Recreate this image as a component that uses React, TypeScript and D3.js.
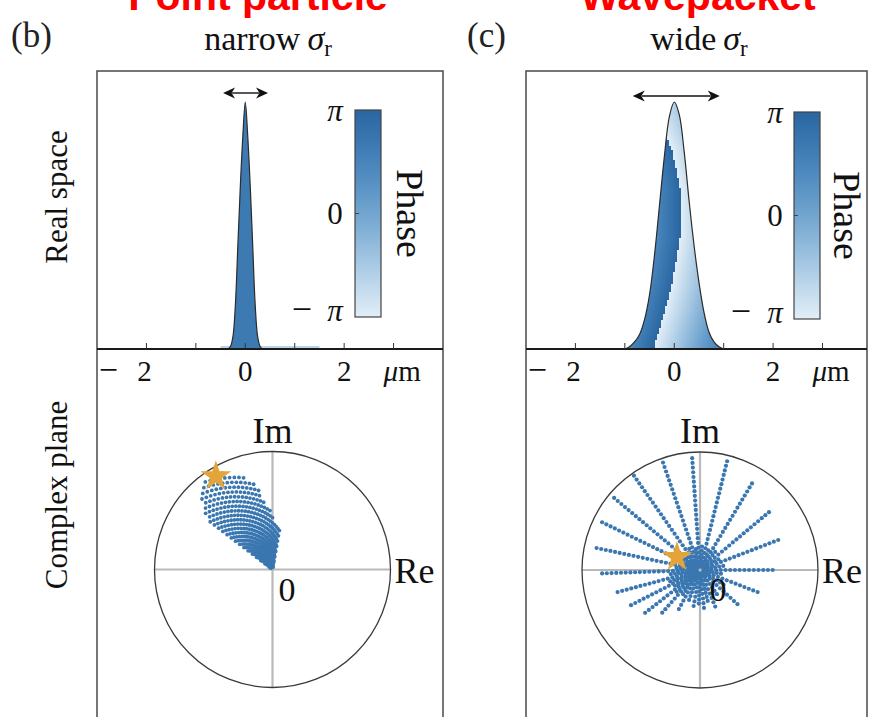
import React, { useMemo } from 'react';
import * as d3 from 'd3';

const W = 870;
const H = 717;

// ---------- data ----------
const xTicks = [-2, -1, 0, 1, 2, 3];
const xTickLabels = [
  { value: -2, text: '2', neg: true },
  { value: 0, text: '0', neg: false },
  { value: 2, text: '2', neg: false },
];

// narrow wavepacket |psi|^2 (normalised)
const narrowX = [-0.35, -0.3, -0.25, -0.2, -0.15, -0.1, -0.05, 0, 0.05, 0.1, 0.15, 0.2, 0.25, 0.3, 0.35];
const narrowY = [0, 0.01, 0.05, 0.18, 0.42, 0.66, 0.86, 1, 0.86, 0.66, 0.42, 0.18, 0.05, 0.01, 0];
const narrowTail = [-0.5, 1.5];
const narrowPhase = 2.1; // rad

// wide wavepacket |psi|^2 (normalised)
const wideX = [-1, -0.9, -0.8, -0.7, -0.6, -0.5, -0.4, -0.3, -0.2, -0.1, 0, 0.1, 0.2, 0.3, 0.4, 0.5, 0.6, 0.7, 0.8, 0.9, 1];
const wideY = [0, 0.01, 0.03, 0.06, 0.12, 0.22, 0.38, 0.58, 0.78, 0.94, 1, 0.95, 0.8, 0.6, 0.42, 0.27, 0.15, 0.07, 0.03, 0.01, 0];
// phase wrap line inside the wide packet (height fraction -> x in µm)
const wrapH = [0, 0.1, 0.25, 0.45, 0.65, 0.8, 0.88, 1];
const wrapX = [-0.42, -0.27, -0.06, 0.12, 0.12, -0.04, -0.2, -0.4];
const phaseSlope = 3.6; // rad per µm

const narrowArrow = [-0.45, 0.46];
const wideArrow = [-0.84, 0.92];

const phaseColors = ['#e2eef7', '#a9cae4', '#6fa4cf', '#4583bb', '#2a67a2'];

// complex plane, wide packet: spokes (angle deg, length in units of |psi|max)
const spokeAngles = [94, 109, 125, 140, 154, 168, 182, 195, 207, 218, 228.5, 241.6, 260, 276, 292.6, 317.6, 339, 0, 21, 40, 59, 76];
const spokeLengths = [0.98, 0.98, 0.98, 0.98, 0.96, 0.92, 0.84, 0.76, 0.68, 0.6, 0.49, 0.39, 0.32, 0.33, 0.37, 0.44, 0.56, 0.65, 0.73, 0.79, 0.88, 0.95];
const shortSpokeAngles = [101, 117, 132, 147, 161, 175, 188, 201, 212, 223, 235, 250, 268, 284, 305, 328, 350, 10, 30, 50, 67, 85];
const shortSpokeLengths = [0.2, 0.2, 0.2, 0.2, 0.2, 0.2, 0.26, 0.28, 0.28, 0.28, 0.28, 0.3, 0.3, 0.3, 0.28, 0.24, 0.2, 0.2, 0.2, 0.2, 0.2, 0.2];

// complex plane, narrow packet: wedge of samples (angle deg, max radius)
const cloudAngles = [80, 82.5, 85, 87.5, 90, 92.5, 95, 97.5, 100, 102.5, 105, 107.5, 110, 112.5, 115, 117.5, 120, 122.5, 125, 127.5, 130, 132.5, 135, 137.5, 140, 142.5];
const cloudLengths = [0.34, 0.37, 0.4, 0.42, 0.45, 0.5, 0.55, 0.61, 0.68, 0.74, 0.78, 0.82, 0.85, 0.88, 0.9, 0.92, 0.93, 0.94, 0.94, 0.935, 0.92, 0.9, 0.86, 0.81, 0.75, 0.68];

const starNarrow = [-0.48, 0.79];
const starWide = [-0.195, 0.11];

// ---------- helpers ----------
const serif = "'Liberation Serif','Times New Roman',serif";
const phaseColor = d3.interpolateRgbBasis(phaseColors);
const colorOf = (phi: number) => phaseColor((phi + Math.PI) / (2 * Math.PI));
const wrap = (p: number) => {
  const t = (((p + Math.PI) % (2 * Math.PI)) + 2 * Math.PI) % (2 * Math.PI);
  return t - Math.PI;
};

const AXIS_Y = 349;
const yTop = d3.scaleLinear().domain([0, 1]).range([AXIS_Y, 102]);

type PanelCfg = {
  id: string;
  x0: number;
  x1: number;
  domain: [number, number];
  letter: string;
  letterX: number;
  title: string;
  titleX: number;
  red: string;
  redX: number;
  cbX: number;
  cbY0: number;
  cbY1: number;
  cbLabelX: number;
  minusX: number;
  phaseX: number;
  arrow: number[];
  arrowY: number;
  cx: number;
  cy: number;
  zeroX: number;
  star: number[];
};

const panels: PanelCfg[] = [
  {
    id: 'b', x0: 97, x1: 443, domain: [-3, 4], letter: '(b)', letterX: 11, title: 'narrow', titleX: 268,
    red: 'Point particle', redX: 258, cbX: 355, cbY0: 110, cbY1: 317, cbLabelX: 335, minusX: 302, phaseX: 397,
    arrow: narrowArrow, arrowY: 93, cx: 272.5, cy: 569.5, zeroX: 287, star: starNarrow,
  },
  {
    id: 'c', x0: 526, x1: 867, domain: [-3, 3.9], letter: '(c)', letterX: 467, title: 'wide', titleX: 699,
    red: 'Wavepacket', redX: 698, cbX: 794, cbY0: 112, cbY1: 319, cbLabelX: 775, minusX: 741, phaseX: 834,
    arrow: wideArrow, arrowY: 96, cx: 700, cy: 570, zeroX: 718, star: starWide,
  },
];

const R = 118;

function DoubleArrow({ x1, x2, y }: { x1: number; x2: number; y: number }) {
  const hl = 12;
  const hw = 5.5;
  return (
    <g>
      <line x1={x1 + hl - 3} x2={x2 - hl + 3} y1={y} y2={y} stroke="#111" strokeWidth={1.4} />
      <path d={`M${x1},${y}L${x1 + hl},${y - hw}L${x1 + hl - 3.5},${y}L${x1 + hl},${y + hw}Z`} fill="#111" />
      <path d={`M${x2},${y}L${x2 - hl},${y - hw}L${x2 - hl + 3.5},${y}L${x2 - hl},${y + hw}Z`} fill="#111" />
    </g>
  );
}

function RealSpace({ p, wide }: { p: PanelCfg; wide: boolean }) {
  const xs = d3.scaleLinear().domain(p.domain).range([p.x0, p.x1]);
  const X = wide ? wideX : narrowX;
  const Y = wide ? wideY : narrowY;
  const pts: [number, number][] = X.map((x, i) => [x, Y[i]]);
  const area = d3.area<[number, number]>().x((d) => xs(d[0])).y0(AXIS_Y).y1((d) => yTop(d[1])).curve(d3.curveCatmullRom);
  const line = d3.line<[number, number]>().x((d) => xs(d[0])).y((d) => yTop(d[1])).curve(d3.curveCatmullRom);
  const clipId = `clip-${p.id}`;
  const gradId = `grad-${p.id}`;

  const cells = useMemo(() => {
    if (!wide) return [];
    const xb = d3.scaleLinear().domain(wrapH).range(wrapX).clamp(true);
    const out: { x: number; y: number; c: string }[] = [];
    const step = 2;
    const pxA = Math.floor(xs(X[0])) - 1;
    const pxB = Math.ceil(xs(X[X.length - 1])) + 1;
    for (let px = pxA; px <= pxB; px += step) {
      for (let py = 98; py <= AXIS_Y; py += step) {
        const x = xs.invert(px + step / 2);
        const h = Math.max(0, yTop.invert(py + step / 2));
        const phi = wrap(Math.PI + phaseSlope * (x - xb(h)));
        out.push({ x: px, y: py, c: colorOf(phi) });
      }
    }
    return out;
  }, [wide]);

  const phiScale = d3.scaleLinear().domain([-Math.PI, Math.PI]).range([p.cbY1, p.cbY0]);
  const gradStops = d3.range(0, 1.0001, 0.1);

  return (
    <g>
      <defs>
        <clipPath id={clipId}>
          <path d={area(pts) || ''} />
        </clipPath>
        <linearGradient id={gradId} x1="0" y1="1" x2="0" y2="0">
          {gradStops.map((t) => (
            <stop key={t} offset={t} stopColor={phaseColor(t)} />
          ))}
        </linearGradient>
      </defs>
      {/* red heading (cut at the top of the page) */}
      <text x={p.redX} y={10} textAnchor="middle" fontFamily="'Liberation Sans',Arial,sans-serif" fontWeight="bold" fontSize={41} fill="#ff0000">
        {p.red}
      </text>
      <text x={p.letterX} y={47} fontFamily={serif} fontSize={35} fill="#222">
        {p.letter}
      </text>
      <text x={p.titleX} y={50} textAnchor="middle" fontFamily={serif} fontSize={34} fill="#111">
        {p.title}
        <tspan fontStyle="italic" dx={7}>σ</tspan>
        <tspan fontSize={23} dy={6}>r</tspan>
      </text>

      {/* density */}
      {!wide && (
        <rect x={xs(narrowTail[0])} width={xs(narrowTail[1]) - xs(narrowTail[0])} y={AXIS_Y - 3} height={3} fill="#bad3ea" />
      )}
      {wide ? (
        <g clipPath={`url(#${clipId})`}>
          {cells.map((c, i) => (
            <rect key={i} x={c.x} y={c.y} width={2.2} height={2.2} fill={c.c} shapeRendering="crispEdges" />
          ))}
        </g>
      ) : (
        <path d={area(pts) || ''} fill={colorOf(narrowPhase)} />
      )}
      <path d={line(pts) || ''} fill="none" stroke="#2b2b2b" strokeWidth={1.2} />

      <DoubleArrow x1={xs(p.arrow[0])} x2={xs(p.arrow[1])} y={p.arrowY} />

      {/* colour bar */}
      <rect x={p.cbX} y={p.cbY0} width={26} height={p.cbY1 - p.cbY0} fill={`url(#${gradId})`} stroke="#444" strokeWidth={1.2} />
      <line x1={p.cbX} x2={p.cbX + 4} y1={phiScale(0)} y2={phiScale(0)} stroke="#444" strokeWidth={1} />
      <text x={p.cbLabelX} y={phiScale(Math.PI) + 11} textAnchor="middle" fontFamily={serif} fontStyle="italic" fontSize={31} fill="#111">π</text>
      <text x={p.cbLabelX} y={phiScale(0) + 10} textAnchor="middle" fontFamily={serif} fontSize={31} fill="#111">0</text>
      <text x={p.minusX} y={phiScale(-Math.PI) + 4} textAnchor="middle" fontFamily={serif} fontSize={36} fill="#111">−</text>
      <text x={p.cbLabelX} y={phiScale(-Math.PI) + 4} textAnchor="middle" fontFamily={serif} fontStyle="italic" fontSize={31} fill="#111">π</text>
      <text transform={`translate(${p.phaseX},${(p.cbY0 + p.cbY1) / 2}) rotate(90)`} textAnchor="middle" fontFamily={serif} fontSize={38} fill="#111">
        Phase
      </text>

      {/* x axis */}
      <line x1={p.x0} x2={p.x1} y1={AXIS_Y} y2={AXIS_Y} stroke="#1a1a1a" strokeWidth={1.8} />
      {xTicks.map((t) => (
        <line key={t} x1={xs(t)} x2={xs(t)} y1={AXIS_Y} y2={AXIS_Y - 6} stroke="#333" strokeWidth={1} />
      ))}
      {xTickLabels.map((t) => (
        <g key={t.value}>
          <text x={xs(t.value) - (t.neg ? 2 : 0)} y={381} textAnchor="middle" fontFamily={serif} fontSize={29} fill="#111">
            {t.text}
          </text>
          {t.neg && (
            <text x={xs(t.value) - 38} y={381} textAnchor="middle" fontFamily={serif} fontSize={34} fill="#111">−</text>
          )}
        </g>
      ))}
      <text x={xs(3) - 10} y={381} fontFamily={serif} fontSize={29} fill="#111">
        <tspan fontStyle="italic">μ</tspan>m
      </text>
    </g>
  );
}

function ComplexPlane({ p, wide }: { p: PanelCfg; wide: boolean }) {
  const sx = d3.scaleLinear().domain([-1, 1]).range([p.cx - R, p.cx + R]);
  const sy = d3.scaleLinear().domain([-1, 1]).range([p.cy + R, p.cy - R]);
  const dots = useMemo(() => {
    const out: [number, number][] = [];
    const addSpoke = (a: number, L: number, start: number, step: number) => {
      const rad = (a * Math.PI) / 180;
      for (let r = start; r <= L + 1e-6; r += step) out.push([r * Math.cos(rad), r * Math.sin(rad)]);
    };
    if (wide) {
      spokeAngles.forEach((a, i) => addSpoke(a, spokeLengths[i], 0.03 + (i % 3) * 0.013, 0.04));
      shortSpokeAngles.forEach((a, i) => addSpoke(a, shortSpokeLengths[i], 0.04 + (i % 2) * 0.02, 0.035));
    } else {
      cloudAngles.forEach((a, i) => addSpoke(a, cloudLengths[i], 0.02 + (i % 3) * 0.015, 0.045));
    }
    return out;
  }, [wide]);
  const starPath = d3.symbol(d3.symbolStar, 290)() || '';
  return (
    <g>
      <line x1={p.cx - R} x2={p.cx + R} y1={p.cy} y2={p.cy} stroke="#b9b9b9" strokeWidth={2.2} />
      <line x1={p.cx} x2={p.cx} y1={p.cy - R} y2={p.cy + R} stroke="#b9b9b9" strokeWidth={2.2} />
      <circle cx={p.cx} cy={p.cy} r={R} fill="none" stroke="#3a3a3a" strokeWidth={1.3} />
      {dots.map((d, i) => (
        <circle key={i} cx={sx(d[0])} cy={sy(d[1])} r={wide ? 2.1 : 1.9} fill="#3a77b0" />
      ))}
      <path d={starPath} transform={`translate(${sx(p.star[0])},${sy(p.star[1])})`} fill="#e3a43a" />
      <text x={p.cx} y={p.cy - R - 9} textAnchor="middle" fontFamily={serif} fontSize={36} fill="#111">Im</text>
      <text x={p.cx + R + 4} y={p.cy + 13} fontFamily={serif} fontSize={36} fill="#111">Re</text>
      <text x={p.zeroX} y={p.cy + 31} textAnchor="middle" fontFamily={serif} fontSize={34} fill="#111">0</text>
    </g>
  );
}

export default function App() {
  return (
    <svg width={W} height={H} viewBox={`0 0 ${W} ${H}`} style={{ position: 'absolute', left: 0, top: 0, background: '#fff' }}>
      <rect x={0} y={0} width={W} height={H} fill="#fff" />
      {panels.map((p, i) => (
        <g key={p.id}>
          <path d={`M${p.x0},${H + 2}V71H${p.x1}V${H + 2}`} fill="none" stroke="#4a4a4a" strokeWidth={1.5} />
          <RealSpace p={p} wide={i === 1} />
          <ComplexPlane p={p} wide={i === 1} />
        </g>
      ))}
      <text transform="translate(67,197) rotate(-90)" textAnchor="middle" fontFamily={serif} fontSize={31} fill="#111">
        Real space
      </text>
      <text transform="translate(67,495) rotate(-90)" textAnchor="middle" fontFamily={serif} fontSize={31} fill="#111">
        Complex plane
      </text>
    </svg>
  );
}
